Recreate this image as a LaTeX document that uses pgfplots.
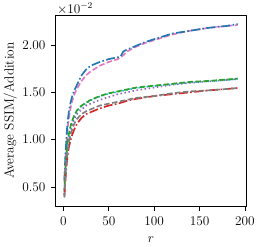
\documentclass[border=0pt]{standalone}
\usepackage{pgfplots}
\pgfplotsset{compat=1.18}
\definecolor{tabblue}{HTML}{1F77B4}
\definecolor{tabgreen}{HTML}{2CA02C}
\definecolor{tabred}{HTML}{D62728}
\definecolor{tabpurple}{HTML}{9467BD}
\definecolor{tabpink}{HTML}{E377C2}
\definecolor{tabgray}{HTML}{7F7F7F}
\definecolor{tabcyan}{HTML}{17BECF}
\begin{document}
\begin{tikzpicture}
\begin{axis}[
  scale only axis,
  width=172pt, height=172pt,
  xmin=-8.5, xmax=201.5,
  ymin=0.30, ymax=2.31,
  xtick={0,50,100,150,200},
  ytick={0.5,1.0,1.5,2.0},
  tick label style={font=\fontsize{12}{14}\selectfont},
  xticklabel style={yshift=-2.5pt},
  yticklabel style={xshift=-1.5pt, /pgf/number format/.cd, fixed, fixed zerofill, precision=2},
  label style={font=\fontsize{12}{14}\selectfont},
  tick align=outside,
  tick pos=left,
  major tick length=4.2pt,
  axis line style={line width=0.7pt},
  every tick/.style={line width=0.7pt, black},
  xlabel={$r$},
  ylabel={Average SSIM/Addition},
  xlabel style={yshift=-3pt},
  ylabel style={yshift=-2pt},
  clip=true,
  line join=round,
]
\addplot[tabpink, line width=1.5pt, dash pattern=on 5pt off 2.2pt] coordinates {
(1,0.55)(2,0.78)(3,0.93)(4,1.05)(5,1.15)(6,1.23)(8,1.34)(10,1.42)(12,1.48)(15,1.54)(20,1.62)(25,1.68)(30,1.72)(40,1.78)(50,1.82)(60,1.85)(66,1.89)(70,1.93)(80,1.98)(90,2.02)(100,2.05)(120,2.11)(140,2.15)(160,2.18)(180,2.20)(192,2.21)};
\addplot[tabblue, line width=1.5pt, dash pattern=on 8pt off 2.2pt on 1.4pt off 2.2pt] coordinates {
(1,0.57)(2,0.80)(3,0.97)(4,1.12)(5,1.22)(6,1.30)(8,1.40)(10,1.47)(12,1.52)(15,1.58)(20,1.68)(25,1.74)(30,1.78)(40,1.82)(50,1.85)(60,1.87)(63,1.88)(66,1.93)(70,1.95)(80,1.99)(90,2.03)(100,2.06)(120,2.12)(140,2.15)(160,2.18)(180,2.20)(192,2.22)};
\addplot[tabpurple, line width=1.5pt, dash pattern=on 1.4pt off 2.3pt] coordinates {
(1,0.42)(2,0.62)(3,0.77)(4,0.88)(5,0.96)(6,1.02)(8,1.11)(10,1.17)(12,1.22)(15,1.27)(20,1.32)(25,1.36)(30,1.38)(40,1.42)(50,1.45)(60,1.48)(70,1.50)(80,1.52)(100,1.55)(120,1.58)(140,1.60)(160,1.615)(180,1.63)(192,1.64)};
\addplot[tabcyan, line width=1.5pt, dash pattern=on 1.4pt off 2.3pt] coordinates {
(1,0.47)(2,0.66)(3,0.80)(4,0.91)(5,0.99)(6,1.05)(8,1.14)(10,1.20)(12,1.25)(15,1.30)(20,1.355)(25,1.385)(30,1.415)(40,1.455)(50,1.485)(60,1.505)(70,1.525)(80,1.545)(100,1.565)(120,1.585)(140,1.605)(160,1.615)(180,1.63)(192,1.64)};
\addplot[tabgreen, line width=1.5pt, dash pattern=on 5pt off 2.2pt] coordinates {
(1,0.45)(2,0.65)(3,0.80)(4,0.92)(5,1.00)(6,1.06)(8,1.15)(10,1.21)(12,1.26)(15,1.31)(20,1.36)(25,1.39)(30,1.42)(40,1.46)(50,1.49)(60,1.51)(70,1.53)(80,1.55)(100,1.57)(120,1.59)(140,1.61)(160,1.62)(180,1.635)(192,1.645)};
\addplot[tabred, line width=1.5pt, dash pattern=on 8pt off 2.2pt on 1.4pt off 2.2pt] coordinates {
(1,0.40)(2,0.55)(3,0.68)(4,0.78)(5,0.86)(6,0.92)(8,1.00)(10,1.06)(12,1.11)(15,1.17)(20,1.23)(25,1.27)(30,1.29)(40,1.33)(50,1.36)(60,1.38)(70,1.41)(80,1.43)(100,1.46)(120,1.48)(140,1.50)(160,1.52)(180,1.535)(192,1.545)};
\addplot[tabgray, line width=1.5pt, dash pattern=on 5pt off 2.2pt] coordinates {
(1,0.39)(2,0.58)(3,0.72)(4,0.83)(5,0.91)(6,0.97)(8,1.06)(10,1.12)(12,1.17)(15,1.22)(20,1.27)(25,1.30)(30,1.32)(40,1.36)(50,1.38)(60,1.40)(70,1.42)(80,1.44)(100,1.46)(120,1.49)(140,1.51)(160,1.52)(180,1.535)(192,1.545)};
\end{axis}
\node[anchor=south west, inner sep=1pt, font=\fontsize{12}{14}\selectfont] at ([yshift=0pt]current axis.north west) {$\times 10^{-2}$};
\path ([xshift=-46pt,yshift=-34.5pt]current axis.south west) rectangle ([xshift=11.5pt,yshift=14pt]current axis.north east);
\end{tikzpicture}
\end{document}
